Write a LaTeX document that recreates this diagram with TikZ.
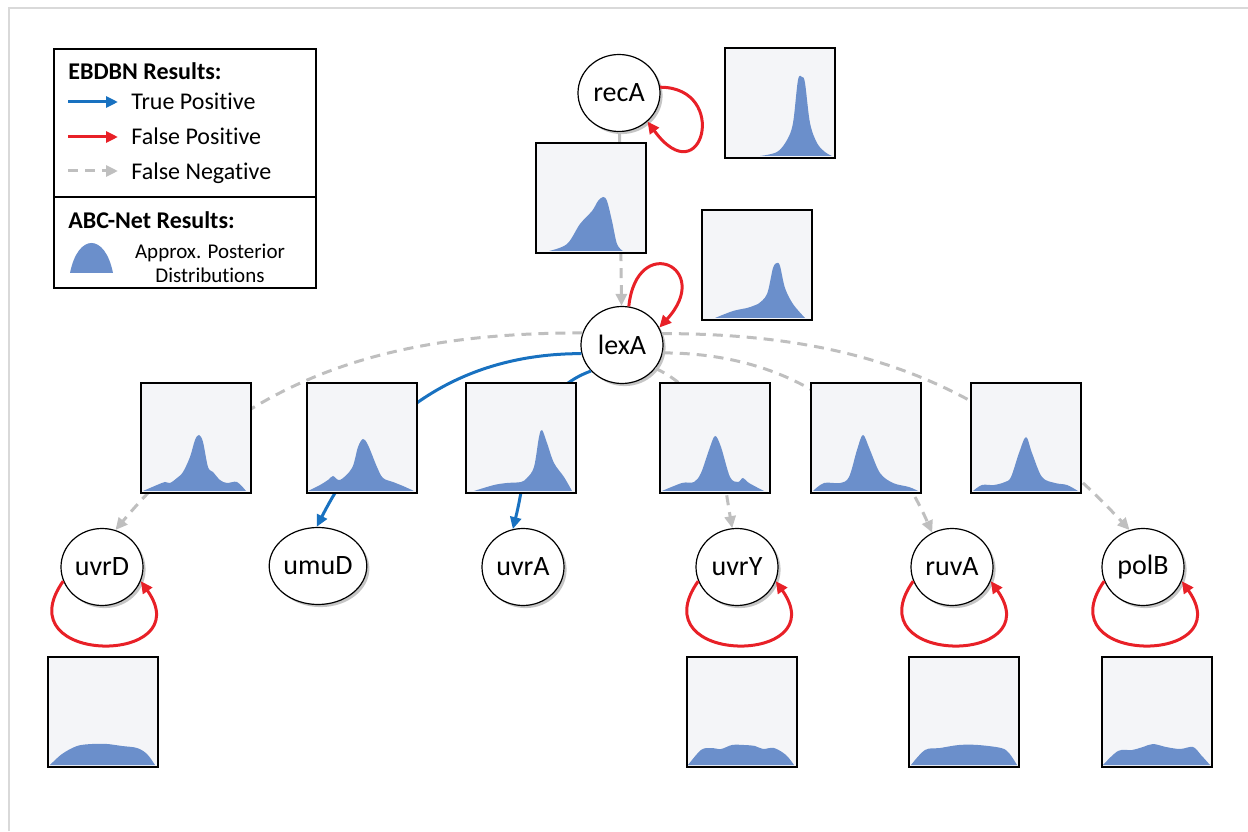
\documentclass[tikz,border=0pt]{standalone}
\usepackage{fontspec}
\setmainfont{Carlito}[Ligatures=NoCommon]
\usetikzlibrary{arrows.meta,shapes.geometric,shadows}

\definecolor{tpblue}{RGB}{24,113,192}
\definecolor{fpred}{RGB}{232,32,39}
\definecolor{fngray}{RGB}{191,191,191}
\definecolor{distblue}{RGB}{107,143,203}
\definecolor{plotbg}{RGB}{244,245,248}
\definecolor{framegray}{RGB}{217,217,217}

% posterior curve inside a plot box (local units, box is 110 x 110)
\newcommand{\postdist}[2]{%
  \begin{scope}[shift={(#1.south west)}]
    \fill[distblue] plot[smooth,tension=0.55] coordinates {#2} -- cycle;
  \end{scope}}

\begin{document}
\begin{tikzpicture}[x=0.5pt,y=0.5pt,
  gene/.style={ellipse,draw=black,line width=0.6pt,fill=white,inner sep=0pt,
    minimum width=41pt,minimum height=38.5pt,font=\fontsize{14}{16}\selectfont,
    drop shadow={shadow xshift=1.3pt,shadow yshift=-1.3pt,fill=black!45}},
  postbox/.style={rectangle,draw=black,line width=1.1pt,fill=plotbg,inner sep=0pt,
    minimum width=55pt,minimum height=55pt,anchor=south west},
  tip/.style={-{Triangle[length=6pt,width=5.5pt]}},
  tpedge/.style={tip,draw=tpblue,line width=1.5pt},
  fpedge/.style={tip,draw=fpred,line width=1.5pt},
  fnedge/.style={tip,draw=fngray,line width=1.5pt,dash pattern=on 5pt off 3.5pt},
  leglbl/.style={anchor=base west,inner sep=0pt,font=\fontsize{12}{14}\selectfont},
  legtitle/.style={leglbl,font=\fontsize{12}{14}\selectfont\bfseries}]
\useasboundingbox (0,0) rectangle (1248,831);

% page frame
\draw[framegray,line width=1.2pt] (9,0) -- (9,823) -- (1248,823);

% legend
\draw[line width=0.9pt] (54,543) rectangle (316,782);
\draw[line width=0.9pt] (54,634) -- (316,634);
\node[legtitle] (ebTitle) at (68,751) {EBDBN Results:};
\node[leglbl] (tpLbl) at (131,721) {True Positive};
\node[leglbl] (fpLbl) at (131,686) {False Positive};
\node[leglbl] (fnLbl) at (131,651) {False Negative};
\coordinate (tpStart) at (68,729);
\coordinate (fpStart) at (68,694);
\coordinate (fnStart) at (68,660);
\draw[tpedge,shorten >=6.5pt] (tpStart) -- (tpStart -| tpLbl.west);
\draw[fpedge,shorten >=6.5pt] (fpStart) -- (fpStart -| fpLbl.west);
\draw[fnedge,shorten >=6.5pt] (fnStart) -- (fnStart -| fnLbl.west);
\node[legtitle] (abcTitle) at (68,602) {ABC-Net Results:};
\fill[distblue] (70,558) .. controls (78,598) and (105,598) .. (113,558) -- cycle;
\node[align=center,inner sep=0pt,font=\fontsize{10.5}{12}\selectfont] (apLbl) at (210,568)
  {Approx. Posterior\\Distributions};

% genes
\node[gene] (recA) at (619,738) {recA};
\node[gene] (lexA) at (622,486) {lexA};
\node[gene] (uvrD) at (102,264) {uvrD};
\node[gene] (umuD) at (318,265) {umuD};
\node[gene] (uvrA) at (523,264) {uvrA};
\node[gene] (uvrY) at (737,264) {uvrY};
\node[gene] (ruvA) at (952,264) {ruvA};
\node[gene] (polB) at (1143,264) {polB};

% EBDBN edges
\draw[fnedge] (recA) -- (lexA);
\draw[fpedge] (recA.8) .. controls +(70,0) and +(55,-75) .. (recA.-45);
\draw[fpedge] (lexA.80) .. controls +(8,75) and +(55,60) .. (lexA.25);
\draw[fnedge] (lexA.163) to[out=180,in=50] (uvrD.70);
\draw[tpedge] (lexA.192) to[out=180,in=63] (umuD.92);
\draw[tpedge] (lexA.220) to[out=200,in=76] (uvrA.105);
\draw[fnedge] (lexA.-35) to[out=-25,in=100] (uvrY.97);
\draw[fnedge] (lexA.-11) to[out=0,in=114] (ruvA.120);
\draw[fnedge] (lexA.16) to[out=0,in=133] (polB.110);
\foreach \g in {uvrD,uvrY,ruvA,polB}
  \draw[fpedge] (\g.200) .. controls +(-60,-85) and +(60,-85) .. (\g.-20);

% ABC-Net posteriors
\node[postbox] (pRecA) at (724,672) {};
\postdist{pRecA}{(36,3) (53,7) (63,19) (69,36) (74,79) (78,82) (81,76) (86,36) (93,16) (101,7) (108,3)}
\node[postbox] (pRecLex) at (535,577) {};
\postdist{pRecLex}{(14,3) (32,10) (45,30) (57,43) (63,53) (68,57) (72,53) (77,33) (82,10) (88,3)}
\node[postbox] (pLexA) at (701,510) {};
\postdist{pLexA}{(14,3) (32,10) (46,13) (52,15) (57,17) (66,27) (72,53) (76,58) (79,55) (84,33) (92,17) (104,3)}
\node[postbox] (pUvrD) at (140,337) {};
\postdist{pUvrD}{(3,3) (17,9) (25,12) (30,11) (37,16) (43,22) (50,37) (55,54) (59,59) (63,52) (68,27) (73,22) (80,14) (87,11) (97,12) (106,3)}
\node[postbox] (pUmuD) at (306,337) {};
\postdist{pUmuD}{(2,3) (14,9) (22,14) (27,18) (34,14) (46,26) (52,47) (57,55) (62,49) (71,27) (77,16) (87,12) (97,8) (108,3)}
\node[postbox] (pUvrA) at (465,337) {};
\postdist{pUvrA}{(9,3) (29,9) (42,11) (56,12) (62,16) (69,27) (74,57) (77,64) (82,51) (89,31) (99,17) (107,3)}
\node[postbox] (pUvrY) at (659,337) {};
\postdist{pUvrY}{(3,3) (23,11) (35,12) (42,21) (50,44) (56,58) (62,47) (71,17) (79,12) (84,16) (90,11) (105,3)}
\node[postbox] (pRuvA) at (810,337) {};
\postdist{pRuvA}{(3,3) (14,11) (30,11) (39,17) (47,44) (53,59) (60,44) (70,21) (83,11) (99,7) (108,3)}
\node[postbox] (pPolB) at (970,337) {};
\postdist{pPolB}{(3,3) (12,9) (24,9) (35,12) (41,17) (49,41) (56,57) (62,41) (72,17) (85,11) (97,9) (108,3)}

% self-loop posteriors
\node[postbox] (qUvrD) at (47,63) {};
\postdist{qUvrD}{(3,3) (15,14) (30,22) (45,24) (60,24) (75,22) (90,20) (100,14) (108,3)}
\node[postbox] (qUvrY) at (686,63) {};
\postdist{qUvrY}{(2,3) (15,18) (25,20) (35,19) (46,23) (58,23) (69,22) (77,19) (88,20) (100,13) (108,3)}
\node[postbox] (qRuvA) at (908,63) {};
\postdist{qRuvA}{(3,3) (17,18) (32,20) (51,23) (70,23) (93,20) (101,15) (109,3)}
\node[postbox] (qPolB) at (1101,63) {};
\postdist{qPolB}{(2,3) (17,17) (31,18) (42,21) (52,24) (65,21) (79,19) (92,21) (100,13) (109,3)}
\end{tikzpicture}
\end{document}
